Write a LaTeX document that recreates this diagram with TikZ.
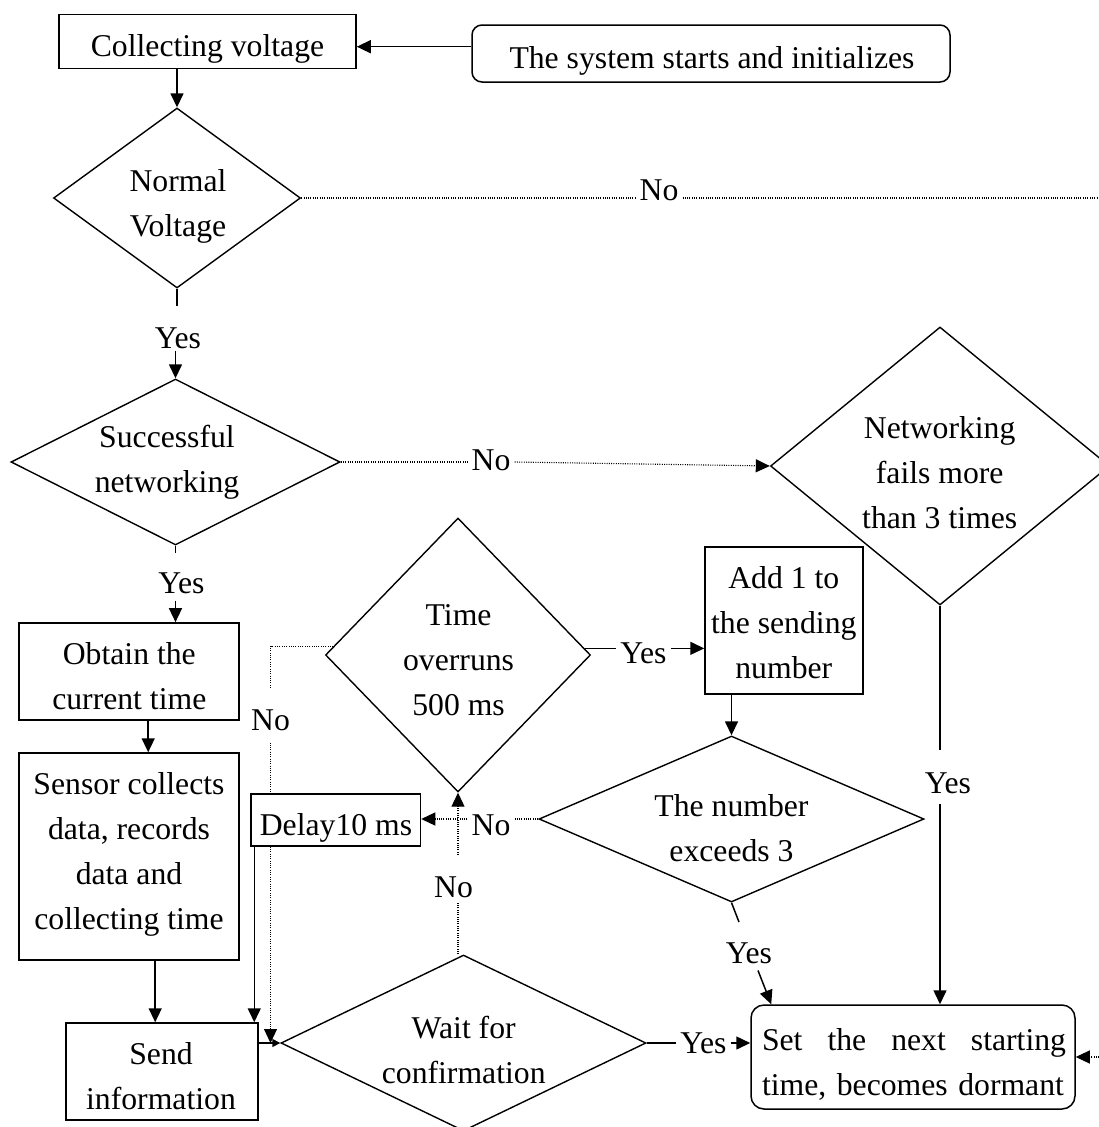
\documentclass[tikz,border=0pt]{standalone}
\usepackage{fontspec}
\setmainfont{Liberation Serif}
\usetikzlibrary{shapes.geometric,arrows.meta,calc}
\begin{document}
\begin{tikzpicture}[x=1pt,y=-1pt,
  every node/.style={font=\fontsize{31.7}{45}\selectfont},
  box/.style={draw, rectangle, line width=1.5pt, inner sep=0pt},
  rbox/.style={box, rounded corners=#1},
  dia/.style={draw, diamond, line width=1.4pt, inner sep=0pt},
  txt/.style={align=center, inner sep=0pt},
  lbl/.style={inner xsep=4pt, inner ysep=2pt, anchor=base},
  ln/.style={line width=1.5pt},
  arr/.style={ln, -{Triangle[length=14pt,width=13pt]}},
  sarr/.style={ln, -{Triangle[length=8pt,width=8pt]}},
  dot/.style={line width=1.1pt, dash pattern=on 1pt off 1.3pt},
  darr/.style={dot, -{Triangle[length=14pt,width=13pt]}},
]
\useasboundingbox (0,0) rectangle (1099,1127);
\clip (0,0) rectangle (1099,1127);

% ---- shapes ----
\node[box, minimum width=297pt, minimum height=54pt] (cv) at (207.5,41.3) {};
\node[rbox=10pt, minimum width=478pt, minimum height=57pt] (st) at (711,53.5) {};
\node[dia, minimum width=247pt, minimum height=180pt] (nv) at (177,198) {};
\node[dia, minimum width=329pt, minimum height=166pt] (sn) at (175.5,462) {};
\node[dia, minimum width=339pt, minimum height=278pt] (nf) at (940,466) {};
\node[dia, minimum width=265pt, minimum height=274pt] (tmo) at (458,655) {};
\node[box, minimum width=158pt, minimum height=147pt] (add) at (784,620.5) {};
\node[dia, minimum width=385pt, minimum height=166pt] (tne) at (731.5,819) {};
\node[box, minimum width=220pt, minimum height=97pt] (ob) at (129.2,671.4) {};
\node[box, minimum width=220pt, minimum height=207pt] (sc) at (129.2,856.5) {};
\node[box, minimum width=169.5pt, minimum height=52pt] (dl) at (335.75,820) {};
\node[box, minimum width=192pt, minimum height=97pt] (si) at (162,1071.5) {};
\node[dia, minimum width=365pt, minimum height=176pt] (wf) at (463.5,1043) {};
\node[rbox=13pt, minimum width=324pt, minimum height=104pt] (dm) at (913,1057) {};

% ---- texts ----
\node[txt, anchor=base] (cvt) at (207.5,56.5) {Collecting voltage};
\node[txt, anchor=base] (stt) at (712,68.3) {The system starts and initializes};
\node[txt] (nvt) at (178,206) {Normal\\Voltage};
\node[txt] (snt) at (167,462.5) {Successful\\networking};
\node[txt] (nft) at (939.7,472.5) {Networking\\fails more\\than 3 times};
\node[txt] (tmt) at (458.6,660) {Time\\overruns\\500 ms};
\node[txt] (adt) at (783.8,623) {Add 1 to\\the sending\\number};
\node[txt] (obt) at (129.3,676) {Obtain the\\current time};
\node[txt] (sct) at (129,854) {Sensor collects\\data, records\\data and\\collecting time};
\node[txt, anchor=base] (dlt) at (336,835) {Delay10 ms};
\node[txt] (tnt) at (731.5,828) {The number\\exceeds 3};
\node[txt] (wft) at (463.7,1050) {Wait for\\confirmation};
\node[txt] (sit) at (161,1076.5) {Send\\information};
\node[txt, align=left, text width=304pt] (dmt) at (914,1064) {Set\hfill the\hfill next\hfill starting\\time, becomes dormant};

% ---- branch labels ----
\node[lbl] (n1) at (659,200) {No};
\node[lbl] (y1) at (178,348) {Yes};
\node[lbl] (n2) at (491,470) {No};
\node[lbl] (y2) at (181.5,593) {Yes};
\node[lbl] (y3) at (643.5,663) {Yes};
\node[lbl] (n3) at (270.5,730) {No};
\node[lbl] (n4) at (491,835) {No};
\node[lbl] (n5) at (453.5,897) {No};
\node[lbl] (y4) at (948,793) {Yes};
\node[lbl] (y5) at (749,963) {Yes};
\node[lbl] (y6) at (703.5,1053) {Yes};

% ---- connectors ----
\coordinate (ain) at ($(st.west)+(0,-6.8)$);
\draw[arr] (ain) -- (ain -| cv.east);
\draw[arr] (nv.north |- cv.south) -- (nv.north);

% voltage check
\draw[ln] (nv.south) -- ($(nv.south |- y1.north)+(0,-19)$);
\draw[arr] (sn.north |- y1.south) -- (sn.north);
\coordinate (rt) at (1125,198);
\draw[dot] (nv.east) -- (nv.east -| n1.west);
\draw[darr] (nv.east -| n1.east) -- (rt) |- (dm.east);

% networking check
\draw[dot] (sn.east) -- (sn.east -| n2.west);
\draw[darr] (sn.east -| n2.east) -- (nf.west);
\draw[ln] (sn.south) -- ($(sn.south |- y2.north)+(0,-17)$);
\draw[arr] ($(sn.south |- y2.south)+(0,5)$) -- (sn.south |- ob.north);
\draw[ln] (nf.south) -- ($(nf.south |- y4.north)+(0,-20)$);
\draw[arr] ($(nf.south |- y4.south)+(0,8)$) -- (nf.south |- dm.north);

% data path
\coordinate (o1) at ([xshift=19pt]ob.south);
\draw[arr] (o1) -- (o1 |- sc.north);
\coordinate (s1) at ([xshift=26pt]sc.south);
\draw[arr] (s1) -- (s1 |- si.north);
\coordinate (d1) at ([xshift=4pt]dl.south west);
\draw[arr] (d1) -- (d1 |- si.north);
\draw[sarr] (wf.west -| si.east) -- (wf.west);

% confirmation loop
\draw[ln] (wf.east) -- (wf.east -| y6.west);
\draw[arr] (wf.east -| y6.east) -- (wf.east -| dm.west);
\draw[dot] (tmo.south |- wf.north) -- ($(tmo.south |- n5.south)+(0,3)$);
\draw[darr] ($(tmo.south |- n5.north)+(0,-19)$) -- (tmo.south);

% timeout check
\draw[ln] (tmo.3.2) -- (tmo.3.2 -| y3.west);
\draw[arr] (tmo.3.2 -| y3.east) -- (tmo.3.2 -| add.west);
\draw[dot] (tmo.176.8) -| ($(n3.north)+(0,-19)$);
\draw[dot] ($(n3.south)+(0,10)$) -- (n3.south |- dl.north);
\draw[darr] (n3.south |- dl.south) -- (n3.south |- wf.west);

% resend counter
\draw[arr] (tne.north |- add.south) -- (tne.north);
\draw[dot] (tne.west) -- (tne.west -| n4.east);
\draw[darr] (tne.west -| n4.west) -- (tne.west -| dl.east);
\draw[ln] (tne.south) -- ($(y5.north)+(-10,-18)$);
\draw[arr] ($(y5.south)+(9,5)$) -- ($(dm.north west)+(21,0)$);
\end{tikzpicture}
\end{document}
